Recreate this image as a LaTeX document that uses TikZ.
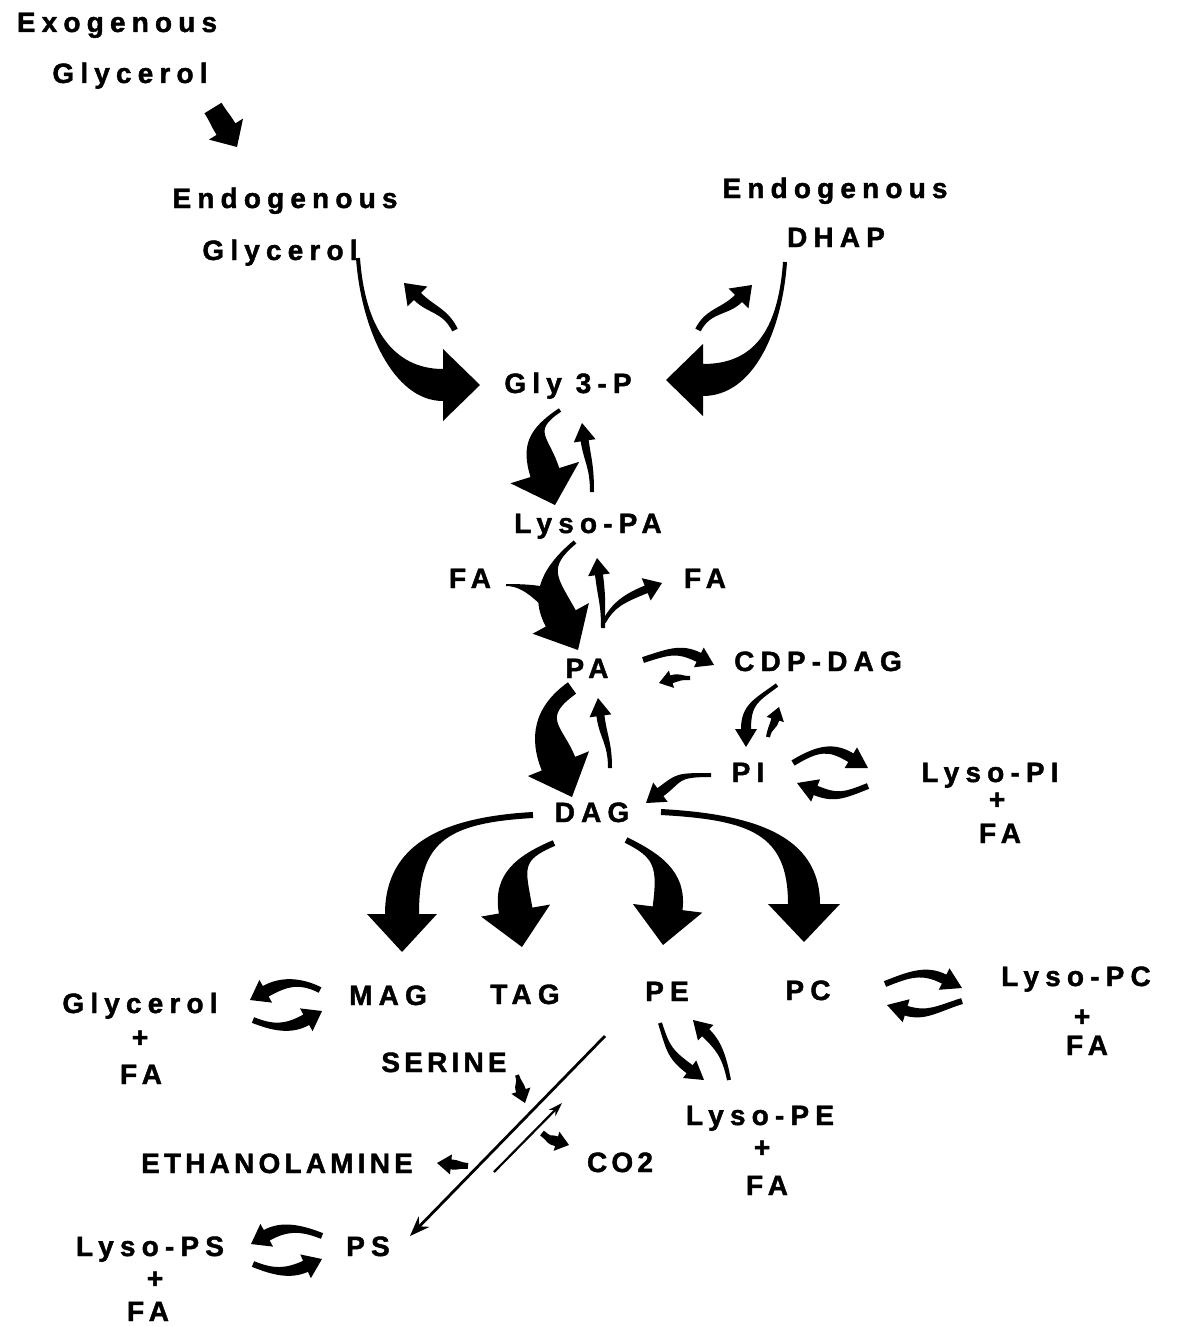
\documentclass[tikz,border=0pt]{standalone}
\usepackage{fontspec}
\newfontfamily\lblfont[LetterSpace=22,FakeBold=1.5]{Liberation Sans}
\newfontfamily\lblfontn[LetterSpace=15,FakeBold=1.5]{Liberation Sans}
\usetikzlibrary{arrows.meta,calc}
\tikzset{
  lbl/.style={font=\lblfont\bfseries\fontsize{28}{30}\selectfont,inner sep=0pt,text height=20pt,text depth=0pt},
  lbln/.style={lbl,font=\lblfontn\bfseries\fontsize{28}{30}\selectfont},
  thinarr/.style={line width=2.8pt,-{Stealth[length=20pt,width=15pt]}},
}
% tapered filled arrow:
% #1 start, #2 start control (relative), #3 end control (relative), #4 tip,
% #5 tail half-width, #6 body half-width, #7 head half-width, #8 head length
\newcommand{\flowarrow}[8]{%
  \coordinate (fP0) at #1;
  \coordinate (fP3) at #4;
  \coordinate (fP1) at ($(fP0)+#2$);
  \coordinate (fP2) at ($(fP3)+#3$);
  \coordinate (fH) at ($(fP3)!#8pt!(fP2)$);
  \coordinate (fQ) at ($(fP2)+(fH)-(fP3)$);
  \coordinate (fA) at ($(fP0)!#5pt!90:(fP1)$);
  \coordinate (fB) at ($(fP0)!#5pt!-90:(fP1)$);
  \coordinate (fC) at ($(fH)!#6pt!-90:(fQ)$);
  \coordinate (fD) at ($(fH)!#6pt!90:(fQ)$);
  \coordinate (fE) at ($(fH)!#7pt!-90:(fQ)$);
  \coordinate (fF) at ($(fH)!#7pt!90:(fQ)$);
  \fill (fA) .. controls ($(fP1)+(fA)-(fP0)$) and ($(fQ)+(fC)-(fH)$) .. (fC)
    -- (fE) -- (fP3) -- (fF) -- (fD)
    .. controls ($(fQ)+(fD)-(fH)$) and ($(fP1)+(fB)-(fP0)$) .. (fB) -- cycle;
}
\begin{document}
\begin{tikzpicture}[x=1pt,y=-1pt]
  \useasboundingbox (0,0) rectangle (1178,1327);
  % labels
  \node[lbl] (exo) at (117,22) {Exogenous};
  \node[lbl] (exoglyc) at (130,73) {Glycerol};
  \node[lbl] (endo1) at (285,198) {Endogenous};
  \node[lbl] (glyc) at (280,250) {Glycerol};
  \node[lbl] (endo2) at (835,188) {Endogenous};
  \node[lbl] (dhap) at (836,237) {DHAP};
  \node[lbl] (g3p) at (568,383) {Gly 3-P};
  \node[lbl] (lysopa) at (588,523) {Lyso-PA};
  \node[lbl] (fal) at (470,578) {FA};
  \node[lbl] (far) at (705,578) {FA};
  \node[lbl] (pa) at (587,668) {PA};
  \node[lbl] (cdp) at (818,661) {CDP-DAG};
  \node[lbl] (pi) at (748,772) {PI};
  \node[lbl] (lysopi) at (990,772) {Lyso-PI};
  \node[lbl] (lysopip) at (997,799) {+};
  \node[lbl] (lysopifa) at (1000,833) {FA};
  \node[lbl] (dag) at (592,812) {DAG};
  \node[lbl] (mag) at (388,995) {MAG};
  \node[lbl] (tag) at (525,994) {TAG};
  \node[lbl] (pe) at (667,991) {PE};
  \node[lbl] (pc) at (808,990) {PC};
  \node[lbl] (glyc2) at (140,1003) {Glycerol};
  \node[lbl] (glyc2p) at (140,1037) {+};
  \node[lbl] (glyc2fa) at (141,1074) {FA};
  \node[lbl] (lysopc) at (1076,976) {Lyso-PC};
  \node[lbl] (lysopcp) at (1082,1016) {+};
  \node[lbl] (lysopcfa) at (1087,1045) {FA};
  \node[lbln] (serine) at (444,1062) {SERINE};
  \node[lbln] (ethan) at (277,1163) {ETHANOLAMINE};
  \node[lbln] (co2) at (620,1162) {CO2};
  \node[lbl] (lysope) at (760,1115) {Lyso-PE};
  \node[lbl] (lysopep) at (762,1147) {+};
  \node[lbl] (lysopefa) at (767,1185) {FA};
  \node[lbl] (lysops) at (150,1246) {Lyso-PS};
  \node[lbl] (lysopsp) at (155,1278) {+};
  \node[lbl] (lysopsfa) at (148,1311) {FA};
  \node[lbl] (ps) at (368,1246) {PS};
  % glycerol and DHAP into Gly 3-P
  \flowarrow{([shift={(83,35)}]exoglyc.center)}{(8,13)}{(-8,-13)}{([shift={(-48,-51)}]endo1.center)}{10}{11}{20}{21}
  \flowarrow{([shift={(78,8)}]glyc.center)}{(5,70)}{(-50,0)}{([shift={(-88,2)}]g3p.center)}{2}{16}{36}{37}
  \flowarrow{([shift={(-113,-53)}]g3p.center)}{(-10,-20)}{(14,14)}{([shift={(124,33)}]glyc.center)}{3}{5}{14}{19}
  \flowarrow{([shift={(-51,25)}]dhap.center)}{(-5,70)}{(50,0)}{([shift={(98,-3)}]g3p.center)}{2}{16}{36}{37}
  \flowarrow{([shift={(130,-53)}]g3p.center)}{(10,-20)}{(-14,14)}{([shift={(-84,48)}]dhap.center)}{3}{5}{14}{19}
  % Gly 3-P to Lyso-PA to PA
  \flowarrow{([shift={(-8,27)}]g3p.center)}{(-30,20)}{(-10,-32)}{([shift={(-33,-18)}]lysopa.center)}{2}{15}{36}{34}
  \flowarrow{([shift={(4,-31)}]lysopa.center)}{(0,-25)}{(3,20)}{([shift={(14,40)}]g3p.center)}{2}{4}{11}{18}
  \flowarrow{([shift={(-13,19)}]lysopa.center)}{(-30,25)}{(-18,-33)}{([shift={(-9,-18)}]pa.center)}{2}{17}{32}{36}
  \flowarrow{([shift={(36,7)}]fal.center)}{(20,0)}{(-15,-10)}{([shift={(-27,-63)}]pa.center)}{1}{12}{0}{0}
  \flowarrow{([shift={(16,-40)}]pa.center)}{(0,-25)}{(3,25)}{([shift={(9,35)}]lysopa.center)}{2}{4}{11}{17}
  \flowarrow{([shift={(17,-46)}]pa.center)}{(8,-15)}{(-25,10)}{([shift={(-43,5)}]far.center)}{2}{4}{12}{17}
  % PA, CDP-DAG, PI, DAG
  \flowarrow{([shift={(-15,20)}]pa.center)}{(-35,25)}{(-13,-32)}{([shift={(-20,-15)}]dag.center)}{7}{18}{33}{36}
  \flowarrow{([shift={(18,-44)}]dag.center)}{(0,-25)}{(3,22)}{([shift={(11,30)}]pa.center)}{2}{4}{11}{18}
  \flowarrow{([shift={(56,-8)}]pa.center)}{(25,-8)}{(-20,-10)}{([shift={(-104,4)}]cdp.center)}{3}{5}{11}{17}
  \flowarrow{([shift={(-128,17)}]cdp.center)}{(-10,0)}{(10,-3)}{([shift={(72,15)}]pa.center)}{2}{4}{9}{13}
  \flowarrow{([shift={(-41,24)}]cdp.center)}{(-20,15)}{(0,-25)}{([shift={(-2,-25)}]pi.center)}{2}{5}{11}{18}
  \flowarrow{([shift={(20,-35)}]pi.center)}{(2,-10)}{(-3,10)}{([shift={(-39,46)}]cdp.center)}{2}{4}{9}{13}
  \flowarrow{([shift={(-37,3)}]pi.center)}{(-35,0)}{(20,-15)}{([shift={(54,-9)}]dag.center)}{2}{5}{12}{18}
  \flowarrow{([shift={(45,-9)}]pi.center)}{(25,-15)}{(-20,-12)}{([shift={(-122,-4)}]lysopi.center)}{3}{5}{12}{20}
  \flowarrow{([shift={(-122,14)}]lysopi.center)}{(-25,10)}{(20,8)}{([shift={(49,11)}]pi.center)}{3}{5}{12}{20}
  % DAG to the four products
  \flowarrow{([shift={(-59,3)}]dag.center)}{(-90,5)}{(0,-70)}{([shift={(14,-43)}]mag.center)}{3}{17}{35}{38}
  \flowarrow{([shift={(-38,31)}]dag.center)}{(-35,15)}{(-7,-40)}{([shift={(-3,-47)}]tag.center)}{3}{17}{35}{37}
  \flowarrow{([shift={(34,28)}]dag.center)}{(30,15)}{(5,-40)}{([shift={(-4,-46)}]pe.center)}{3}{15}{35}{37}
  \flowarrow{([shift={(69,0)}]dag.center)}{(90,5)}{(0,-70)}{([shift={(-4,-48)}]pc.center)}{3}{16}{36}{38}
  % exchanges with lyso forms
  \flowarrow{([shift={(-68,-5)}]mag.center)}{(-20,-10)}{(18,-10)}{([shift={(110,-3)}]glyc2.center)}{3}{6}{13}{18}
  \flowarrow{([shift={(113,17)}]glyc2.center)}{(20,8)}{(-18,10)}{([shift={(-66,16)}]mag.center)}{3}{6}{13}{18}
  \flowarrow{([shift={(-7,32)}]pe.center)}{(8,25)}{(-20,-15)}{([shift={(-56,-35)}]lysope.center)}{2}{5}{11}{18}
  \flowarrow{([shift={(-31,-35)}]lysope.center)}{(-5,-25)}{(12,12)}{([shift={(26,29)}]pe.center)}{2}{5}{11}{18}
  \flowarrow{([shift={(77,-6)}]pc.center)}{(25,-10)}{(-20,-10)}{([shift={(-114,12)}]lysopc.center)}{3}{5}{12}{20}
  \flowarrow{([shift={(-114,25)}]lysopc.center)}{(-25,8)}{(20,6)}{([shift={(79,15)}]pc.center)}{3}{5}{12}{20}
  \flowarrow{([shift={(-46,-10)}]ps.center)}{(-20,-8)}{(18,-10)}{([shift={(101,-2)}]lysops.center)}{3}{6}{13}{18}
  \flowarrow{([shift={(103,18)}]lysops.center)}{(20,8)}{(-18,8)}{([shift={(-46,13)}]ps.center)}{3}{6}{13}{18}
  % PE / PS exchange
  \draw[thinarr] ([shift={(-62,45)}]pe.center) -- ([shift={(42,-10)}]ps.center);
  \draw[line width=2.2pt,-{Stealth[length=14pt,width=9pt]}] ([shift={(217,9)}]ethan.center) -- ([shift={(-58,-59)}]co2.center);
  \flowarrow{([shift={(73,13)}]serine.center)}{(3,9)}{(-3,-9)}{([shift={(81,41)}]serine.center)}{2}{5}{10}{13}
  \flowarrow{([shift={(191,3)}]ethan.center)}{(-10,-1)}{(10,1)}{([shift={(160,0)}]ethan.center)}{3}{5}{10}{14}
  \flowarrow{([shift={(-78,-29)}]co2.center)}{(10,8)}{(-10,-3)}{([shift={(-51,-17)}]co2.center)}{3}{5}{10}{13}
\end{tikzpicture}
\end{document}
